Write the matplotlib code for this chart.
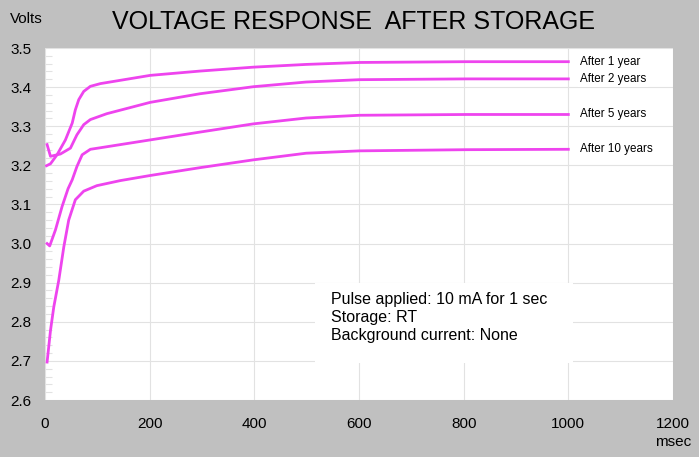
import matplotlib
matplotlib.use('Agg')
import matplotlib.pyplot as plt
from matplotlib.patches import Rectangle
from matplotlib.ticker import MultipleLocator

plt.rcParams['font.family'] = ['Liberation Sans', 'DejaVu Sans']

# values (msec, volts)
x_1yr = [2.9, 10.5, 23, 39, 52, 58, 64.5, 74, 86.7, 106, 201, 296, 398, 499, 601, 804, 1000]
v_1yr = [3.199, 3.204, 3.227, 3.265, 3.308, 3.342, 3.368, 3.389, 3.402, 3.409,
         3.430, 3.441, 3.451, 3.458, 3.463, 3.465, 3.465]

x_2yr = [4, 10.5, 29.5, 48.6, 61, 74, 86.7, 118, 201, 296, 398, 499, 601, 804, 1000]
v_2yr = [3.253, 3.223, 3.229, 3.244, 3.278, 3.304, 3.317, 3.332, 3.361, 3.383,
         3.401, 3.413, 3.419, 3.421, 3.421]

x_5yr = [4, 9, 20, 32.7, 44, 52, 61, 71, 86.7, 106, 201, 296, 398, 499, 601, 804, 1000]
v_5yr = [3.000, 2.994, 3.035, 3.095, 3.140, 3.163, 3.197, 3.227, 3.241, 3.245,
         3.265, 3.285, 3.306, 3.321, 3.328, 3.330, 3.330]

x_10yr = [4, 10.5, 16.8, 26.3, 36, 45.3, 58, 74, 99, 144, 201, 296, 398, 499, 601, 804, 1000]
v_10yr = [2.697, 2.778, 2.838, 2.906, 2.992, 3.060, 3.112, 3.134, 3.148, 3.161,
          3.174, 3.194, 3.214, 3.231, 3.237, 3.240, 3.241]

series = [(x_1yr, v_1yr, 'After 1 year'),
          (x_2yr, v_2yr, 'After 2 years'),
          (x_5yr, v_5yr, 'After 5 years'),
          (x_10yr, v_10yr, 'After 10 years')]

notes = 'Pulse applied: 10 mA for 1 sec\nStorage: RT\nBackground current: None'

line_color = '#ee44ee'
bg = '#c0c0c0'

fig = plt.figure(figsize=(6.99, 4.57), dpi=100, facecolor=bg)
ax = fig.add_axes([45 / 699, 1 - 400 / 457, 628 / 699, 352 / 457])
ax.set_facecolor('white')

for xs, vs, label in series:
    ax.plot(xs, vs, color=line_color, lw=2, solid_joinstyle='round')
    ax.text(1022, vs[-1], label, fontsize=8.4, va='center', ha='left',
            bbox=dict(facecolor='white', edgecolor='none', pad=1.5))

ax.set_xlim(0, 1200)
ax.set_ylim(2.6, 3.5)
ax.xaxis.set_major_locator(MultipleLocator(200))
ax.yaxis.set_major_locator(MultipleLocator(0.1))
ax.yaxis.set_minor_locator(MultipleLocator(0.02))
ax.yaxis.set_major_formatter(plt.FuncFormatter(lambda v, p: '%.1f' % v))
ax.grid(True, which='major', color='#e2e2e2', lw=0.8)
ax.set_axisbelow(True)
for s in ax.spines.values():
    s.set_visible(False)
ax.tick_params(axis='both', which='major', length=0, labelsize=11)
ax.tick_params(axis='x', which='major', pad=12)
ax.tick_params(axis='y', which='major', pad=10)
ax.tick_params(axis='y', which='minor', direction='in', length=5,
               color='#e2e2e2', width=0.8)

# white panel behind the notes
ax.add_patch(Rectangle((0.43, 0.105), 0.411, 0.227, transform=ax.transAxes,
                       facecolor='white', edgecolor='none', zorder=1.5))
ax.text(0.455, 0.308, notes, transform=ax.transAxes, fontsize=11.5,
        va='top', ha='left', linespacing=1.27, zorder=3)

fig.text(354 / 699, 1 - 22 / 457, 'VOLTAGE RESPONSE  AFTER STORAGE',
         fontsize=18, ha='center', va='center')
fig.text(10 / 699, 1 - 19 / 457, 'Volts', fontsize=11, ha='left', va='center')
fig.text(673 / 699, 1 - 442 / 457, 'msec', fontsize=11, ha='center', va='center')

fig.savefig('out.png', dpi=100, facecolor=bg)
